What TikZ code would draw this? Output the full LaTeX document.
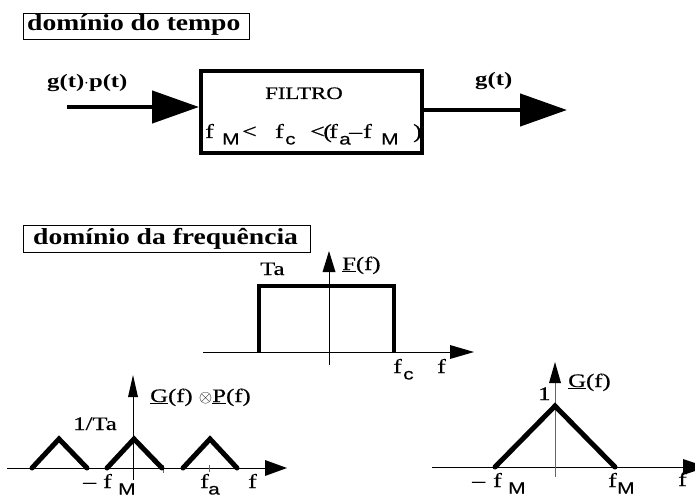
\documentclass[tikz,border=0pt]{standalone}
\usepackage{fontspec}
\setmainfont{Liberation Serif}[FakeStretch=1.3, UprightFeatures={FakeBold=0.6}]
\setsansfont{Liberation Sans}[FakeStretch=1.3, UprightFeatures={FakeBold=0.4}]
\newfontfamily\titlefont{Liberation Serif Bold}[FakeStretch=1.2]
\usetikzlibrary{arrows.meta}
\newcommand\lowsub[1]{\raisebox{-6.5pt}{\fontsize{16}{16}\selectfont\textsf{#1}}}
\newcommand\pc[2]{\makebox[#1pt][l]{#2}}
\begin{document}
\begin{tikzpicture}[x=1pt,y=-1pt,
  lbl/.style={anchor=base west, inner sep=0pt, font=\fontsize{19}{19}\selectfont},
  blbl/.style={anchor=base west, inner sep=0pt, font=\fontsize{19}{19}\selectfont\bfseries},
  titlebox/.style={draw, line width=0.8pt, anchor=north west, inner xsep=0pt, inner ysep=0pt,
     minimum height=26.5pt},
  titletxt/.style={anchor=base west, inner sep=0pt, font=\fontsize{23}{23}\titlefont},
  filterbox/.style={draw, line width=4pt, minimum width=221pt, minimum height=82pt, inner sep=0pt},
  bigarrow/.style={line width=4.5pt, -{Triangle[length=47pt,width=32pt]}},
  axisline/.style={line width=1pt},
  thickline/.style={line width=4pt, line join=miter},
  triline/.style={line width=5pt, line cap=round, line join=miter},
  tick/.style={line width=0.8pt, black!60},
]
\path[use as bounding box, clip] (0,0) rectangle (695,497);

% ---------- time domain ----------
\node[titlebox, minimum width=226.5pt] (t1) at (22.7,12.7) {};
\node[titletxt] (t1txt) at (27,31) {domínio do tempo};

\node[filterbox] (filter) at (311.5,112) {};
\node[lbl, font=\fontsize{17.5}{17.5}\selectfont] (ftxt) at (265,99) {FILTRO};
\node[lbl, font=\fontsize{20}{20}\selectfont] (fcond) at (205,138)
  {\pc{17}{f}\pc{20}{\lowsub{M}}\pc{33}{<}\pc{10}{f}\pc{25}{\lowsub{c}}\pc{13}{<}\pc{6}{(}\pc{10}{f}\pc{10}{\lowsub{a}}\pc{14}{–}\pc{18}{f}\pc{32}{\lowsub{M}})};

\coordinate (inA) at (67,107);
\coordinate (outB) at (567,110);
\draw[bigarrow] (inA) -- (inA -| filter.west);
\draw[bigarrow] (filter.east |- outB) -- (outB);
\node[blbl] (gp) at (47,88) {g(t)$\cdot$p(t)};
\node[blbl] (g) at (475,86) {g(t)};

% ---------- frequency domain ----------
\node[titlebox, minimum width=287.3pt] (t2) at (22.7,225) {};
\node[titletxt] (t2txt) at (33,244) {domínio da frequência};

% F(f)
\draw[axisline] (203,352) -- (452,352);
\fill (450,345) -- (474,352) -- (450,359) -- cycle;
\draw[axisline] (329,365) -- (329,268);
\fill (322.5,272) -- (329,251) -- (335.5,272) -- cycle;
\draw[thickline] (259,352) -- (259,286) -- (394,286) -- (394,352);
\node[lbl] (ta) at (260,275) {Ta};
\node[lbl] (ff) at (342,270) {\underline{F}(f)};
\node[lbl, font=\fontsize{20}{20}\selectfont] (fc) at (393,373) {\pc{10}{f}\lowsub{c}};
\node[lbl, font=\fontsize{20}{20}\selectfont] (f1) at (437,373) {f};

% G(f) (x) P(f)
\draw[axisline] (7,468) -- (267,468);
\fill (265,460) -- (287,468) -- (265,476) -- cycle;
\draw[axisline] (133,480) -- (133,395);
\fill (128,397) -- (133,375) -- (138,397) -- cycle;
\draw[tick] (163,465) -- (163,473);
\draw[tick] (209,465) -- (209,472);
\draw[triline] (32,468) -- (59,439) -- (87,468);
\draw[triline] (107,468) -- (134,439) -- (162,468);
\draw[triline] (183,468) -- (210,439) -- (237,468);
\node[lbl] (gpf) at (150,402) {\underline{G}(f) $\otimes$\underline{P}(f)};
\node[lbl] (ita) at (73,430) {1/Ta};
\node[lbl, font=\fontsize{20}{20}\selectfont] (mfm) at (83,488) {\pc{20}{–}\pc{15}{f}\lowsub{M}};
\node[lbl, font=\fontsize{20}{20}\selectfont] (fa) at (200,488) {\pc{8}{f}\lowsub{a}};
\node[lbl, font=\fontsize{20}{20}\selectfont] (f2) at (248,488) {f};

% G(f)
\draw[axisline] (432,467) -- (690,467);
\fill (683,459) -- (707,467) -- (683,475) -- cycle;
\draw[axisline, black!60] (555,477) -- (555,380);
\fill (549,383) -- (555,362) -- (561,383) -- cycle;
\draw[triline] (495,467) -- (555,406) -- (615,467);
\node[lbl] (gf) at (568,387) {\underline{G}(f)};
\node[lbl] (one) at (538,400) {1};
\node[lbl, font=\fontsize{20}{20}\selectfont] (mfm2) at (472,487) {\pc{21}{–}\pc{15}{f}\lowsub{M}};
\node[lbl, font=\fontsize{20}{20}\selectfont] (fm) at (608,487) {\pc{9}{f}\lowsub{M}};
\node[lbl, font=\fontsize{20}{20}\selectfont] (f3) at (678,486) {f};
\end{tikzpicture}
\end{document}
